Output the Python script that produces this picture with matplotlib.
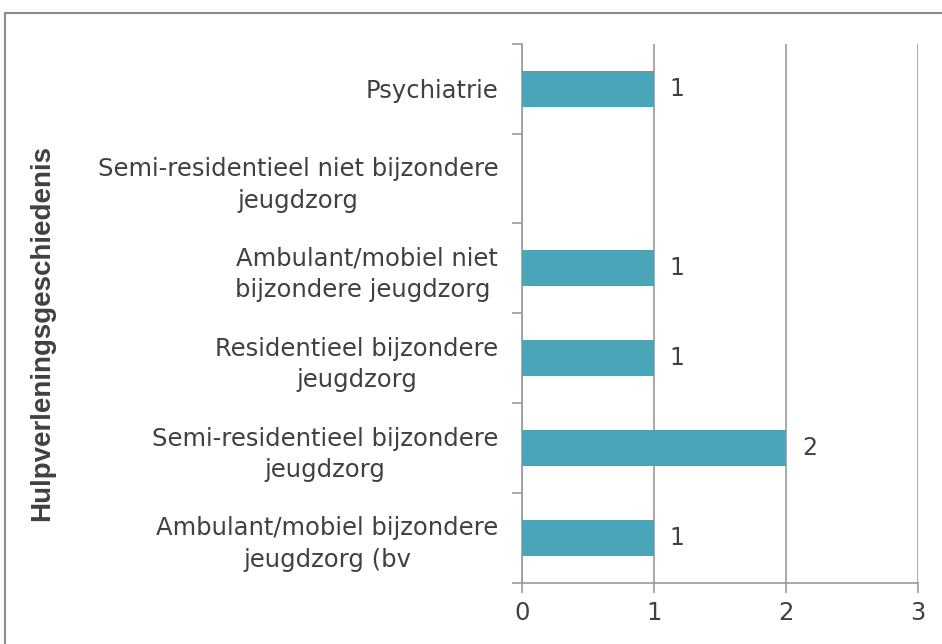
import matplotlib.pyplot as plt
from matplotlib.patches import Rectangle

plt.rcParams.update({'font.size': 17, 'font.family': 'DejaVu Sans'})

categories = ["Psychiatrie",
              "Semi-residentieel niet bijzondere\njeugdzorg",
              "Ambulant/mobiel niet\nbijzondere jeugdzorg ",
              "Residentieel bijzondere\njeugdzorg",
              "Semi-residentieel bijzondere\njeugdzorg",
              "Ambulant/mobiel bijzondere\njeugdzorg (bv"]
values = [1, 0, 1, 1, 2, 1]
xticks = [0, 1, 2, 3]

bar_color = "#4BA5B8"
grid_color = "#999999"
text_color = "#404040"

fig = plt.figure(figsize=(9.42, 6.44), dpi=100)
ax = fig.add_axes([0.554, 0.095, 0.4205, 0.837])

# outer chart frame (runs off the right and bottom edge)
fig.patches.append(Rectangle((5 / 942, -0.1), 1.2, 1 - 13 / 644 + 0.1,
                             transform=fig.transFigure, fill=False,
                             edgecolor="#8c8c8c", linewidth=1.5))

y = list(range(len(categories)))
ax.barh(y, values, height=0.4, color=bar_color, zorder=3)
for yi, v in zip(y, values):
    if v > 0:
        ax.text(v + 0.12, yi, str(v), va="center", ha="left",
                color=text_color, fontsize=17)

ax.set_xlim(0, 3)
ax.set_ylim(len(categories) - 0.5, -0.5)
ax.set_xticks(xticks)
ax.set_yticks(y)
ax.set_yticklabels(categories, color=text_color, fontsize=17.5,
                   linespacing=1.4, multialignment="center")
ax.set_yticks([i - 0.5 for i in range(len(categories) + 1)], minor=True)
ax.tick_params(axis="y", which="major", length=0, pad=17)
ax.tick_params(axis="y", which="minor", length=7, color=grid_color, width=1.2)
ax.tick_params(axis="x", length=7, color=grid_color, width=1.2, pad=6,
               labelcolor=text_color, labelsize=17.5)
ax.xaxis.grid(True, color=grid_color, linewidth=1.2, zorder=0)

for s in ["top", "right"]:
    ax.spines[s].set_visible(False)
for s in ["left", "bottom"]:
    ax.spines[s].set_color(grid_color)
    ax.spines[s].set_linewidth(1.2)

fig.text(42 / 942, 1 - 333 / 644, "Hulpverleningsgeschiedenis", rotation=90,
         ha="center", va="center", fontsize=20, fontweight="bold",
         color=text_color, family="Liberation Sans")

plt.savefig("out.png", dpi=100)
